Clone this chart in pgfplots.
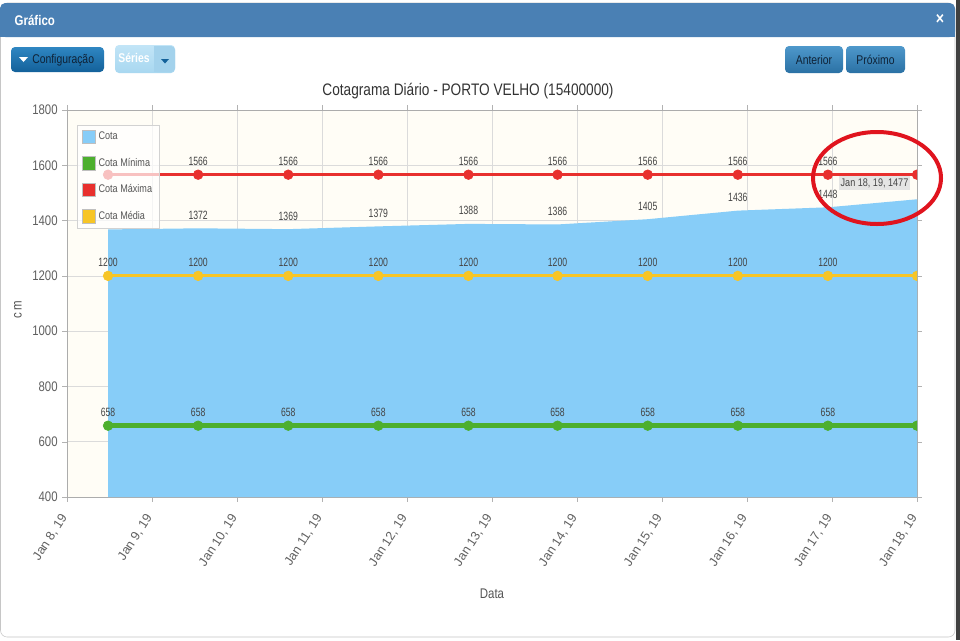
\documentclass[border=0pt]{standalone}
\usepackage{fontspec}
\setmainfont{Liberation Sans}[FakeStretch=0.82]
\newfontfamily\plainfont{Liberation Sans}
\newfontfamily\lblfont{Liberation Sans}[FakeStretch=0.72]
\usepackage{pgfplots}
\pgfplotsset{compat=1.18}
\usepackage{pgfplotstable}

\definecolor{barblue}{HTML}{4A80B4}
\definecolor{cota}{HTML}{87CDF8}
\definecolor{cred}{HTML}{E8302E}
\definecolor{cgreen}{HTML}{4DAF2E}
\definecolor{cyellow}{HTML}{F7C526}
\definecolor{plotbg}{HTML}{FFFDF6}
\definecolor{tickgray}{HTML}{606060}
\definecolor{labgray}{HTML}{555555}
\definecolor{valgray}{HTML}{444444}
\definecolor{ered}{HTML}{E0141E}
\definecolor{btntop}{HTML}{2F86C2}
\definecolor{btnbot}{HTML}{13619A}
\definecolor{btntext}{HTML}{0F2236}
\definecolor{sertop}{HTML}{C2E5F7}
\definecolor{serbot}{HTML}{A8D7F0}
\definecolor{serarr}{HTML}{A3D2EC}

\newcommand\fs[1]{\fontsize{#1}{#1}\selectfont}

% x = days after Jan 8, 19
\pgfplotstableread{
x      cota cl   mn  mnl  mx   mxl  md   mdl
0.483  1368 {}   658 658  1566 {}   1200 1200
1.543  1372 1372 658 658  1566 1566 1200 1200
2.603  1369 1369 658 658  1566 1566 1200 1200
3.663  1379 1379 658 658  1566 1566 1200 1200
4.723  1388 1388 658 658  1566 1566 1200 1200
5.771  1386 1386 658 658  1566 1566 1200 1200
6.832  1405 1405 658 658  1566 1566 1200 1200
7.892  1436 1436 658 658  1566 1566 1200 1200
8.952  1448 1448 658 658  1566 1566 1200 1200
10.0   1477 {}   658 {}   1566 {}   1200 {}
}\dados

\pgfplotsset{sq/.style={legend image code/.code={\draw[draw=gray!50, line width=0.5pt, fill=#1, fill opacity=1] (0pt,-5pt) rectangle (10pt,5pt);}}}

\begin{document}
\begin{tikzpicture}[x=0.75pt,y=-0.75pt]
  % page and dialog frame
  \fill[white] (0,0) rectangle (960,640);
  \draw[gray!45, rounded corners=5] (0.5,3) rectangle (955,637);
  \fill[black!75] (956,0) rectangle (960,640);
  \fill[barblue, rounded corners=4] (0,3) rectangle (955,37);
  \fill[barblue] (0,25) rectangle (955,37);
  \node[anchor=west, text=white, font=\bfseries\fs{10.5}] at (10,20) {Gráfico};
  \node[text=white, font=\bfseries\fs{13}] at (940,19) {×};

  % buttons
  \shade[top color=btntop, bottom color=btnbot, rounded corners=3] (11,47) rectangle (104,72);
  \fill[white] (19,57) -- (28,57) -- (23.5,62) -- cycle;
  \node[anchor=west, font=\fs{9.5}, text=btntext, inner sep=0] at (32,60) {Configuração};
  \shade[top color=sertop, bottom color=serbot, rounded corners=3] (115,45) rectangle (175,73);
  \fill[serarr, rounded corners=3] (154,46) rectangle (175,72);
  \fill[serarr] (154,46) rectangle (160,72);
  \node[font=\bfseries\fs{9.5}, text=white] at (134,58) {Séries};
  \fill[btnbot] (161,59) -- (169,59) -- (165,63.5) -- cycle;
  \shade[top color=btntop!85!white, bottom color=btnbot!90!white, rounded corners=3] (785,46) rectangle (843,73);
  \node[font=\fs{9.5}, text=btntext] at (814,59.5) {Anterior};
  \shade[top color=btntop!85!white, bottom color=btnbot!90!white, rounded corners=3] (846,46) rectangle (905,73);
  \node[font=\fs{9.5}, text=btntext] at (875.5,59.5) {Próximo};

  % chart title
  \node[font=\fs{12.5}, text=black!80] at (468,91) {Cotagrama Diário - PORTO VELHO (15400000)};

  \begin{axis}[
    at={(50.25pt,-372.75pt)}, anchor=south west,
    width=637.5pt, height=290.25pt, scale only axis,
    xmin=0, xmax=10, ymin=400, ymax=1800,
    xtick={0,...,10},
    xticklabels={{Jan 8, 19},{Jan 9, 19},{Jan 10, 19},{Jan 11, 19},{Jan 12, 19},{Jan 13, 19},{Jan 14, 19},{Jan 15, 19},{Jan 16, 19},{Jan 17, 19},{Jan 18, 19}},
    ytick={400,600,...,1800},
    /pgf/number format/assume math mode=true,
    /pgf/number format/set thousands separator={},
    tick align=outside, major tick length=3.5pt,
    tick style={draw=gray!60},
    grid=major, major grid style={draw=gray!28, line width=0.5pt},
    axis line style={draw=gray!65},
    axis background/.style={fill=plotbg},
    ticklabel style={text=tickgray},
    yticklabel style={font=\fs{10.4}},
    xticklabel shift=7.5pt,
    xticklabel style={font=\plainfont\fs{9.5}, rotate=57, anchor=east},
    xlabel={Data}, ylabel={c\,m},
    label style={font=\fs{10.5}, text=labgray},
    xlabel style={at={(axis description cs:0.5,-0.251)}, anchor=center},
    ylabel style={at={(axis description cs:-0.0576,0.483)}, anchor=center},
    clip marker paths=true,
    point meta=explicit symbolic,
    every node near coord/.append style={font=\lblfont\fs{9}, text=valgray, anchor=south, yshift=5.5pt, inner sep=1pt},
    legend style={at={(axis description cs:0.0118,0.961)}, anchor=north west,
      draw=gray!35, fill=white, fill opacity=0.7, draw opacity=1, text opacity=1,
      font=\fs{8.3}, text=labgray, row sep=8.3pt, inner xsep=3.5pt, inner ysep=3pt,
      cells={anchor=west}},
    legend cell align=left,
  ]
    \addplot[fill=cota, draw=none, sq=cota, nodes near coords] table[x=x, y=cota, meta=cl] {\dados} \closedcycle;
    \addlegendentry{Cota}
    \addplot[cgreen, line width=3.6pt, mark=*, mark size=3.6pt, mark options={line width=0.5pt}, sq=cgreen, nodes near coords] table[x=x, y=mn, meta=mnl] {\dados};
    \addlegendentry{Cota Mínima}
    \addplot[cred, line width=2.4pt, mark=*, mark size=3.6pt, mark options={line width=0.5pt}, sq=cred, nodes near coords] table[x=x, y=mx, meta=mxl] {\dados};
    \addlegendentry{Cota Máxima}
    \addplot[cyellow, line width=2.4pt, mark=*, mark size=3.6pt, mark options={line width=0.5pt}, sq=cyellow, nodes near coords] table[x=x, y=md, meta=mdl] {\dados};
    \addlegendentry{Cota Média}
    \node[fill=gray!22, fill opacity=0.9, text opacity=1, font=\fs{8.3}, text=valgray, inner sep=1.5pt] at (axis cs:9.5,1536) {Jan 18, 19, 1477};
  \end{axis}

  % annotation
  \draw[ered, line width=3pt] (877,178) ellipse [x radius=64, y radius=46];
\end{tikzpicture}
\end{document}
